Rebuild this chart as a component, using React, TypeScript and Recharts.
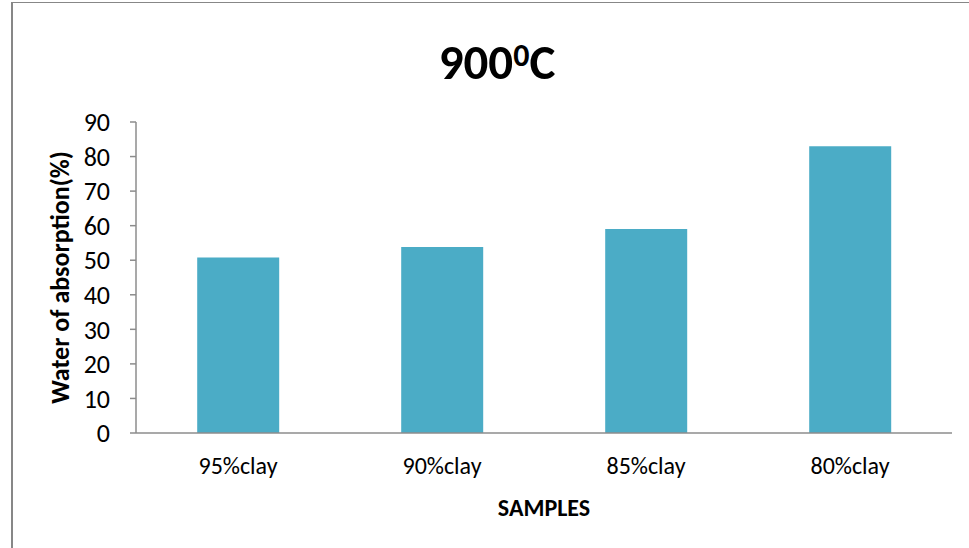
import { BarChart, Bar, XAxis, YAxis } from "recharts";

const samples = ["95%clay", "90%clay", "85%clay", "80%clay"];
const absorption = [50.8, 53.8, 59.0, 83.0];
const yTicks = [0, 10, 20, 30, 40, 50, 60, 70, 80, 90];
const boundaryTicks = [0, 1, 2, 3, 4];

const data = samples.map((s, i) => ({ sample: s, value: absorption[i], pos: i + 0.5 }));

const font = "Carlito, 'Liberation Sans Narrow', 'DejaVu Sans Condensed', sans-serif";
const axisColor = "#8c8c8c";

export default function App() {
  return (
    <div style={{ position: "absolute", left: 0, top: 0, width: 969, height: 548, background: "#fff", overflow: "hidden", fontFamily: font }}>
      <div style={{ position: "absolute", left: 11, top: 2, width: 1000, height: 600, borderLeft: "2px solid #878787", borderTop: "1px solid #878787" }} />
      <div style={{ position: "absolute", left: 0, width: 994, top: 34, textAlign: "center", fontSize: 49, fontWeight: 700, lineHeight: "56px", color: "#000" }}>
        900<sup style={{ fontSize: 32, verticalAlign: "top", position: "relative", top: -6 }}>0</sup>C
      </div>
      <div style={{ position: "absolute", left: 0, top: 0 }}>
        <BarChart width={969} height={548} data={data} margin={{ top: 122, right: 17, bottom: 0, left: 0 }} barCategoryGap="30%">
          <XAxis
            dataKey="sample"
            xAxisId="cat"
            tickLine={false}
            axisLine={{ stroke: axisColor, strokeWidth: 1.5 }}
            tick={{ fill: "#000", fontSize: 24, fontFamily: font }}
            tickMargin={18}
            height={115}
            label={{ value: "SAMPLES", position: "insideBottom", offset: 32, fill: "#000", fontSize: 24, fontWeight: 700, fontFamily: font }}
          />
          <XAxis
            xAxisId="edges"
            type="number"
            dataKey="pos"
            domain={[0, 4]}
            ticks={boundaryTicks}
            tick={false}
            tickSize={8}
            tickLine={{ stroke: axisColor, strokeWidth: 1.5 }}
            axisLine={false}
            height={0}
          />
          <YAxis
            domain={[0, 90]}
            ticks={yTicks}
            interval={0}
            width={136}
            tickSize={6}
            tickMargin={20}
            tickLine={{ stroke: axisColor, strokeWidth: 1.5 }}
            axisLine={{ stroke: axisColor, strokeWidth: 1.5 }}
            tick={{ fill: "#000", fontSize: 26, fontFamily: font }}
            label={{ value: "Water of absorption(%)", angle: -90, position: "insideLeft", offset: 60, style: { textAnchor: "middle" }, fill: "#000", fontSize: 26, fontWeight: 700, fontFamily: font }}
          />
          <Bar dataKey="value" xAxisId="cat" fill="#4BACC6" isAnimationActive={false} />
        </BarChart>
      </div>
    </div>
  );
}
